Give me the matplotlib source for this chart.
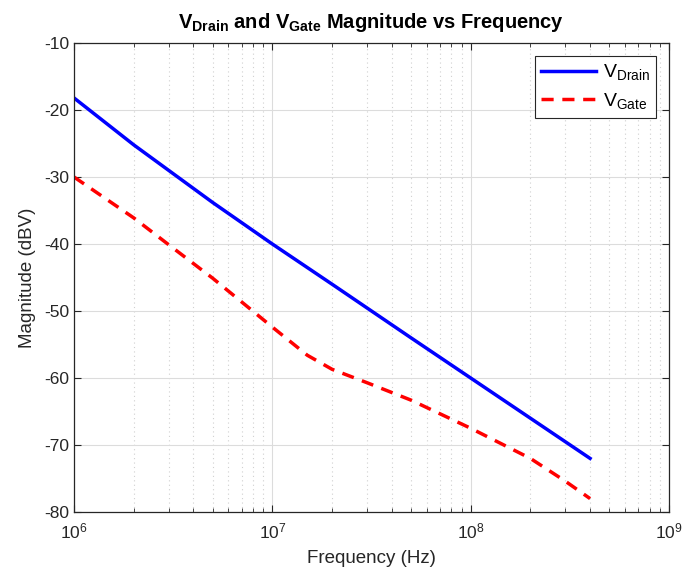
import matplotlib
matplotlib.use("Agg")
import matplotlib.pyplot as plt
import numpy as np
from matplotlib.ticker import LogLocator, NullFormatter

plt.rcParams['font.family'] = ['Liberation Sans', 'DejaVu Sans']
plt.rcParams['mathtext.fontset'] = 'custom'
plt.rcParams['mathtext.rm'] = 'Liberation Sans'
plt.rcParams['mathtext.it'] = 'Liberation Sans:italic'
plt.rcParams['mathtext.bf'] = 'Liberation Sans:bold'
plt.rcParams['axes.unicode_minus'] = False

freq_drain = [1e6, 2e6, 5e6, 1e7, 2e7, 5e7, 1e8, 2e8, 4e8]
mag_drain = [-18.2, -25.2, -33.8, -40.0, -46.0, -54.0, -60.0, -66.0, -72.0]

freq_gate = [1e6, 2e6, 3e6, 5e6, 1e7, 1.5e7, 2e7, 3e7, 5e7, 1e8, 2e8, 3e8, 4e8]
mag_gate = [-30.0, -36.1, -40.1, -45.1, -52.4, -56.6, -58.7, -60.7, -63.3, -67.5, -72.0, -75.4, -78.0]

fig = plt.figure(figsize=(6.86, 5.81), dpi=100)
ax = fig.add_axes([74/686, 1-512/581, (669-74)/686, (512-43)/581])

ax.semilogx(freq_drain, mag_drain, color='#0000ff', lw=2.5, label=r'V$_{\mathrm{Drain}}$')
ax.semilogx(freq_gate, mag_gate, color='#ff0000', lw=2.5, ls=(0, (3.5, 2.5)), label=r'V$_{\mathrm{Gate}}$')

ax.set_xlim(1e6, 1e9)
ax.set_ylim(-80, -10)
ax.set_yticks(np.arange(-80, -9, 10))
ax.xaxis.set_major_locator(LogLocator(base=10, numticks=10))
ax.xaxis.set_minor_locator(LogLocator(base=10, subs=np.arange(2, 10), numticks=100))
ax.xaxis.set_minor_formatter(NullFormatter())

ax.grid(which='major', color='#dcdcdc', lw=0.8, ls='-')
ax.grid(which='minor', axis='x', color='#d0d0d0', lw=0.8, ls=(0, (1, 3)))
ax.set_axisbelow(True)

ax.tick_params(which='both', direction='in', top=True, right=True, colors='#262626',
               labelcolor='#262626', labelsize=12.5)
ax.tick_params(which='major', length=5, width=0.8)
ax.tick_params(which='minor', length=3, width=0.6)
ax.tick_params(axis='x', pad=7)
for s in ax.spines.values():
    s.set_color('#262626')
    s.set_linewidth(0.9)

ax.set_xlabel('Frequency (Hz)', fontsize=13.5, color='#262626', labelpad=6)
ax.set_ylabel('Magnitude (dBV)', fontsize=13.5, color='#262626', labelpad=6)
ax.set_title(r'$\mathbf{V_{Drain}}$ and $\mathbf{V_{Gate}}$ Magnitude vs Frequency',
             fontsize=14.5, fontweight='bold', color='black', pad=11)

leg = ax.legend(loc='upper right', fontsize=14, frameon=True, fancybox=False,
                edgecolor='#262626', framealpha=1, handlelength=2.8,
                borderaxespad=0.65, labelspacing=0.45, borderpad=0.35, handletextpad=0.35)
leg.get_frame().set_linewidth(0.8)

fig.savefig('out.png', dpi=100)
